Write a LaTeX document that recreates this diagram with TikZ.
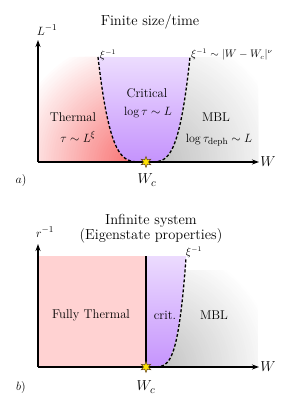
\documentclass[tikz,border=0pt]{standalone}
\usepackage{amsmath}
\usetikzlibrary{arrows.meta,shapes.geometric}
\definecolor{redc}{RGB}{248,112,112}
\definecolor{purc}{RGB}{178,112,252}
\definecolor{grayc}{RGB}{190,190,190}
\definecolor{pinkc}{RGB}{255,210,210}
\newcommand{\radfade}[4]{% center, radius, color, steps
  \foreach \i in {#4,...,1}{%
    \pgfmathsetmacro{\pp}{100*(1-\i/#4)+100/#4}%
    \fill[#3!\pp!white] (#1) circle ({#2*\i/#4});}}
\begin{document}
\begin{tikzpicture}[x=1pt,y=-1pt,
  declare function={fl(\x)=162-105*((146-\x)/48)^4; fr(\x)=162-105*((\x-146)/44)^4; fb(\x)=367-109*((\x-146)/40)^5;},
  axis/.style={line width=1.2pt,-{Stealth[length=7pt,width=5pt]}},
  crit/.style={line width=1.3pt,dash pattern=on 3pt off 2pt},
  lab/.style={inner sep=0pt,font=\fontsize{12.7}{14}\selectfont},
  ttl/.style={inner sep=0pt,font=\fontsize{14.5}{16}\selectfont},
  sml/.style={inner sep=0pt,font=\fontsize{10.5}{12}\selectfont},
  big/.style={inner sep=0pt,font=\fontsize{15}{16}\selectfont},
  starc/.style={star,star points=6,star point ratio=2.2,minimum size=11pt,inner sep=0pt,fill=yellow!85!orange,draw=brown!50!black,line width=0.5pt}]
\useasboundingbox (0,0) rectangle (291,401);
% ---------- panel a ----------
\coordinate (rca) at (136,163);
\coordinate (gca) at (150,163);
\begin{scope}
  \clip (38,57) -- (98,57) -- plot[domain=98:146,samples=60] (\x,{fl(\x)}) -- (38,162) -- cycle;
  \radfade{rca}{125}{redc}{50}
\end{scope}
\begin{scope}
  \clip plot[domain=98:146,samples=60] (\x,{fl(\x)}) -- plot[domain=146:190,samples=60] (\x,{fr(\x)}) -- cycle;
  \shade[top color=white,bottom color=purc] (90,8) rectangle (200,212);
\end{scope}
\begin{scope}
  \clip plot[domain=146:190,samples=60] (\x,{fr(\x)}) -- (258,57) -- (258,162) -- cycle;
  \radfade{gca}{135}{grayc}{50}
\end{scope}
\draw[crit] plot[domain=98:146,samples=80] (\x,{fl(\x)}) -- plot[domain=146:190,samples=80] (\x,{fr(\x)});
\coordinate (oa) at (38,162);
\coordinate (ya) at (38,40);
\coordinate (xa) at (259,162);
\draw[axis] (oa) -- (ya);
\draw[axis] (oa) -- (xa);
\node[starc] (sa) at (146,162) {};
\node[ttl] (ta) at (150,22) {Finite size/time};
\node[lab] (la) at (47,30) {$L^{-1}$};
\node[sml] (xil) at (108,55) {$\xi^{-1}$};
\node[sml,anchor=west] (xir) at (191,55) {$\xi^{-1}\sim|W-W_c|^{\nu}$};
\node[lab] (cr1) at (147,93) {Critical};
\node[lab] (cr2) at (148,113) {$\log\tau\sim L$};
\node[lab] (th1) at (73,117) {Thermal};
\node[lab] (th2) at (78,137) {$\tau\sim L^{\xi}$};
\node[lab] (mb1) at (216,117) {MBL};
\node[lab] (mb2) at (219,140) {$\log\tau_{\mathrm{deph}}\sim L$};
\node[big] (wa) at (268,162) {$W$};
\node[big] (wca) at (147,180) {$W_c$};
\node[lab] (pa) at (21,180) {$a)$};
% ---------- panel b ----------
\fill[pinkc] (38,256) rectangle (146,367);
\begin{scope}
  \clip (146,256) -- (146,367) -- plot[domain=146:186,samples=60] (\x,{fb(\x)}) -- (186,256) -- cycle;
  \shade[top color=white,bottom color=purc] (140,200) rectangle (200,423);
\end{scope}
\coordinate (gcb) at (150,369);
\begin{scope}
  \clip (146,367) -- plot[domain=146:186,samples=60] (\x,{fb(\x)}) -- (258,258) -- (258,367) -- cycle;
  \clip (140,270) rectangle (258,367);
  \radfade{gcb}{125}{grayc}{50}
\end{scope}
\draw[line width=2.6pt] (146,256) -- (146,367);
\draw[crit] plot[domain=146:186,samples=80] (\x,{fb(\x)});
\coordinate (ob) at (38,367);
\coordinate (yb) at (38,244);
\coordinate (xb) at (259,367);
\draw[axis] (ob) -- (yb);
\draw[axis] (ob) -- (xb);
\node[starc] (sb) at (146,367) {};
\node[ttl,align=center,font=\fontsize{14.5}{10.5}\selectfont] (tb) at (151,229) {Infinite system\\(Eigenstate properties)};
\node[lab] (rb) at (45,232) {$r^{-1}$};
\node[sml] (xib) at (194,252) {$\xi^{-1}$};
\node[lab] (ft) at (91,315) {Fully Thermal};
\node[lab] (cb) at (165,315) {crit.};
\node[lab] (mb) at (214,315) {MBL};
\node[big] (wb) at (268,367) {$W$};
\node[big] (wcb) at (146,387) {$W_c$};
\node[lab] (pb) at (21,387) {$b)$};
\end{tikzpicture}
\end{document}
